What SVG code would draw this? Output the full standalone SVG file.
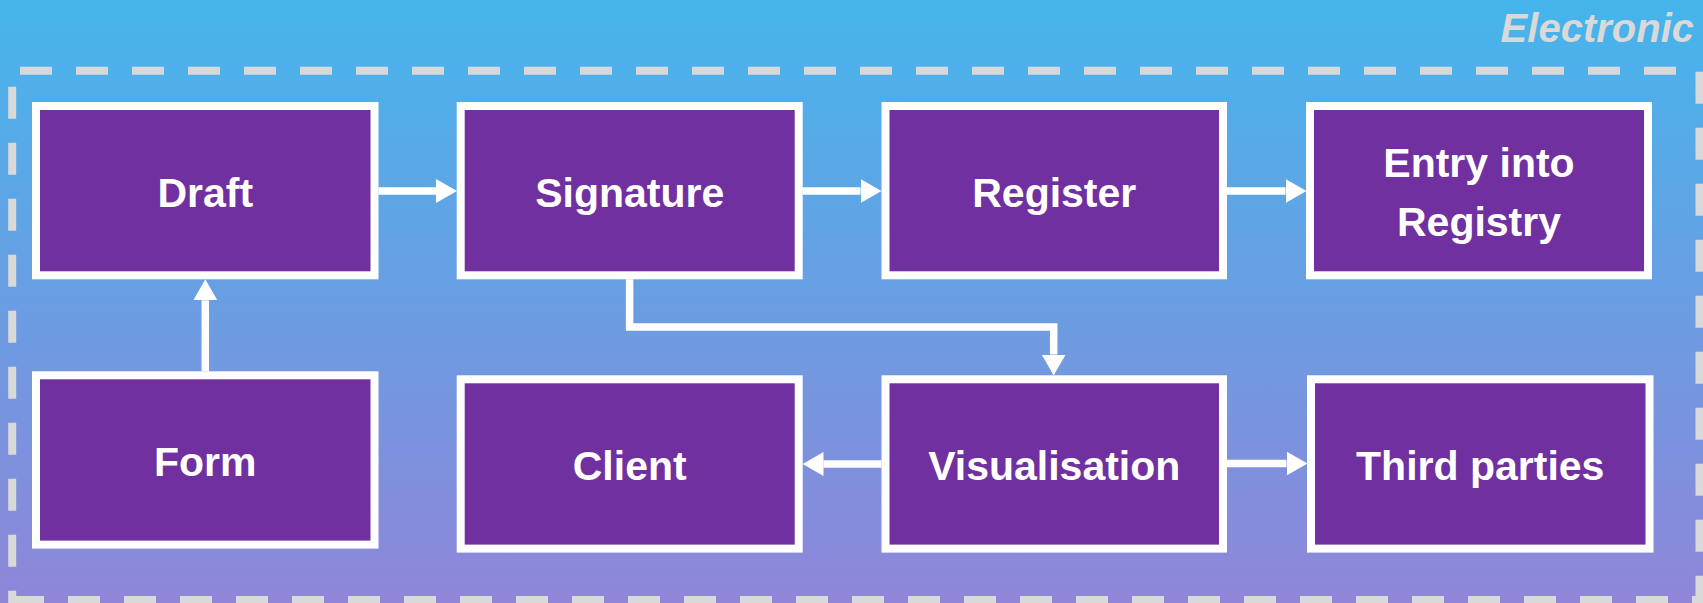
<svg xmlns="http://www.w3.org/2000/svg" width="1703" height="603" viewBox="0 0 1703 603">
  <defs>
    <linearGradient id="bg" x1="0" y1="0" x2="0" y2="1">
      <stop offset="0" stop-color="#45b5ec"/>
      <stop offset="1" stop-color="#8f86d9"/>
    </linearGradient>
    <marker id="arrow" markerUnits="userSpaceOnUse" markerWidth="21" markerHeight="24" refX="0" refY="12" orient="auto" viewBox="0 0 21 24">
      <path d="M0,0 L21,12 L0,24 Z" fill="#ffffff"/>
    </marker>
  </defs>
  <style>
    .box { fill: #7030a0; stroke: #ffffff; stroke-width: 8; }
    .label { font-family: "Liberation Sans", Arial, sans-serif; font-weight: bold; font-size: 41px; fill: #ffffff; text-anchor: middle; }
    .frame { stroke: #d9d9d9; stroke-width: 8; stroke-dasharray: 32 24; fill: none; }
    .conn { stroke: #ffffff; stroke-width: 7.5; fill: none; stroke-linejoin: miter; }
    .title { font-family: "Liberation Sans", Arial, sans-serif; font-weight: bold; font-style: italic; font-size: 40px; fill: #d9d9d9; text-anchor: end; }
  </style>

  <rect x="0" y="0" width="1703" height="603" fill="url(#bg)"/>

  <g id="frame">
    <line class="frame" x1="20" y1="70.7" x2="1700" y2="70.7"/>
    <line class="frame" x1="1699.5" y1="71.7" x2="1699.5" y2="603"/>
    <line class="frame" x1="12" y1="600" x2="1703" y2="600"/>
    <line class="frame" x1="12.2" y1="86.7" x2="12.2" y2="604"/>
    <text class="title" x="1694" y="41.7">Electronic</text>
  </g>

  <g id="connectors">
    <line class="conn" x1="378.5" y1="191" x2="436" y2="191" marker-end="url(#arrow)"/>
    <line class="conn" x1="802.5" y1="191" x2="860.5" y2="191" marker-end="url(#arrow)"/>
    <line class="conn" x1="1227" y1="191" x2="1285.5" y2="191" marker-end="url(#arrow)"/>
    <line class="conn" x1="205.3" y1="371.3" x2="205.3" y2="300.3" marker-end="url(#arrow)"/>
    <path class="conn" d="M629.6,279.3 V327 H1053.7 V354.5" marker-end="url(#arrow)"/>
    <line class="conn" x1="881.5" y1="464" x2="823.5" y2="464" marker-end="url(#arrow)"/>
    <line class="conn" x1="1227" y1="463.5" x2="1286.5" y2="463.5" marker-end="url(#arrow)"/>
  </g>

  <g id="node-draft">
    <rect class="box" x="36" y="106" width="338.5" height="169.3"/>
    <text class="label" x="205.25" y="206.5">Draft</text>
  </g>
  <g id="node-signature">
    <rect class="box" x="460.7" y="106" width="338" height="169.3"/>
    <text class="label" x="629.7" y="206.5">Signature</text>
  </g>
  <g id="node-register">
    <rect class="box" x="885.5" y="106" width="337.5" height="169.3"/>
    <text class="label" x="1054.25" y="206.5">Register</text>
  </g>
  <g id="node-entry">
    <rect class="box" x="1310" y="106" width="338" height="169.3"/>
    <text class="label" x="1479" y="176.7">Entry into</text>
    <text class="label" x="1479" y="235.7">Registry</text>
  </g>
  <g id="node-form">
    <rect class="box" x="36" y="375.3" width="338.5" height="169.3"/>
    <text class="label" x="205.25" y="475.7">Form</text>
  </g>
  <g id="node-client">
    <rect class="box" x="460.7" y="379.3" width="338" height="169.3"/>
    <text class="label" x="629.7" y="479.7">Client</text>
  </g>
  <g id="node-visualisation">
    <rect class="box" x="885.5" y="379.3" width="337.5" height="169.3"/>
    <text class="label" x="1054.25" y="479.7">Visualisation</text>
  </g>
  <g id="node-third">
    <rect class="box" x="1311" y="379.3" width="338.5" height="169.3"/>
    <text class="label" x="1480.25" y="479.7">Third parties</text>
  </g>
</svg>
